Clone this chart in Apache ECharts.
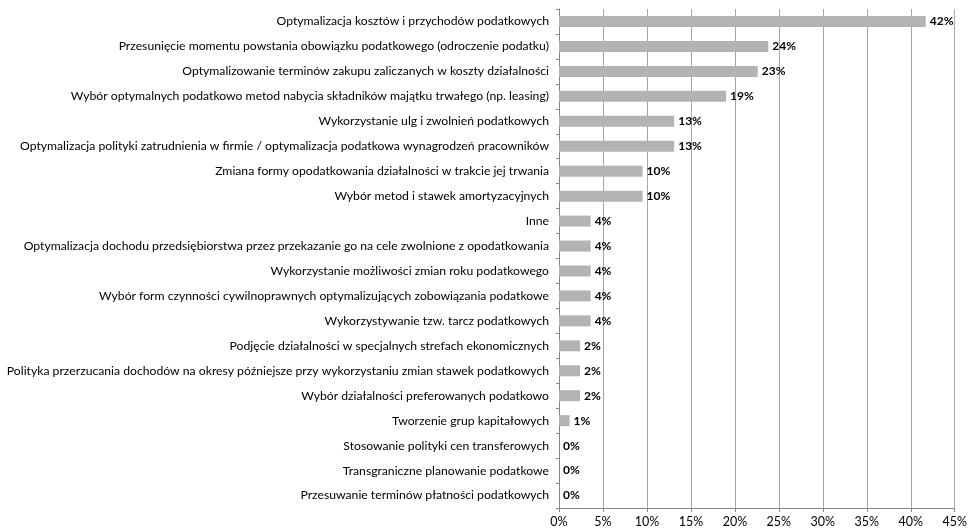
<!DOCTYPE html>
<html>
<head>
<meta charset="utf-8">
<script src="https://cdn.jsdelivr.net/npm/echarts@6/dist/echarts.min.js"></script>
<style>
html, body { margin: 0; padding: 0; background: #fff; }
#main { width: 970px; height: 530px; }
</style>
</head>
<body>
<div id="main"></div>
<script>
// kategorie od góry do dołu
var categories = [
    'Optymalizacja kosztów i przychodów podatkowych',
    'Przesunięcie momentu powstania obowiązku podatkowego (odroczenie podatku)',
    'Optymalizowanie terminów zakupu zaliczanych w koszty działalności',
    'Wybór optymalnych podatkowo metod nabycia składników majątku trwałego (np. leasing)',
    'Wykorzystanie ulg i zwolnień podatkowych',
    'Optymalizacja polityki zatrudnienia w firmie / optymalizacja podatkowa wynagrodzeń pracowników',
    'Zmiana formy opodatkowania działalności w trakcie jej trwania',
    'Wybór metod i stawek amortyzacyjnych',
    'Inne',
    'Optymalizacja dochodu przedsiębiorstwa przez przekazanie go na cele zwolnione z opodatkowania',
    'Wykorzystanie możliwości zmian roku podatkowego',
    'Wybór form czynności cywilnoprawnych optymalizujących zobowiązania podatkowe',
    'Wykorzystywanie tzw. tarcz podatkowych',
    'Podjęcie działalności w specjalnych strefach ekonomicznych',
    'Polityka przerzucania dochodów na okresy późniejsze przy wykorzystaniu zmian stawek podatkowych',
    'Wybór działalności preferowanych podatkowo',
    'Tworzenie grup kapitałowych',
    'Stosowanie polityki cen transferowych',
    'Transgraniczne planowanie podatkowe',
    'Przesuwanie terminów płatności podatkowych'
];
var values = [41.7, 23.8, 22.6, 19.0, 13.1, 13.1, 9.5, 9.5, 3.6, 3.6, 3.6, 3.6, 3.6, 2.4, 2.4, 2.4, 1.2, 0, 0, 0];
var xTicks = [0, 5, 10, 15, 20, 25, 30, 35, 40, 45];

var font = 'Lato, "Open Sans", sans-serif';

var option = {
    animation: false,
    grid: {
        left: 559,
        right: 13,
        top: 9,
        bottom: 22,
        containLabel: false
    },
    xAxis: {
        type: 'value',
        min: xTicks[0],
        max: xTicks[xTicks.length - 1],
        interval: 5,
        axisLine: { show: true, lineStyle: { color: '#868686', width: 1 } },
        axisTick: { show: true, length: 4, lineStyle: { color: '#868686' } },
        splitLine: { show: true, lineStyle: { color: '#a6a6a6', width: 1 } },
        axisLabel: {
            color: '#000',
            fontFamily: font,
            fontSize: 12.5,
            margin: 7,
            formatter: function (v) { return v + '%'; }
        }
    },
    yAxis: {
        type: 'category',
        inverse: true,
        data: categories,
        axisLine: { show: true, lineStyle: { color: '#868686', width: 1 } },
        axisTick: { show: true, length: 3, lineStyle: { color: '#868686' } },
        axisLabel: {
            color: '#000',
            fontFamily: font,
            fontSize: 12.2,
            margin: 10
        }
    },
    series: [
        {
            type: 'bar',
            data: values,
            barWidth: 11,
            itemStyle: { color: '#b3b3b3' },
            label: {
                show: true,
                position: 'right',
                distance: 4,
                color: '#000',
                fontFamily: font,
                fontWeight: 'bold',
                fontSize: 12,
                formatter: function (p) { return Math.round(p.value) + '%'; }
            }
        }
    ]
};

var myChart = echarts.init(document.getElementById('main'));
myChart.setOption(option);
</script>
</body>
</html>
